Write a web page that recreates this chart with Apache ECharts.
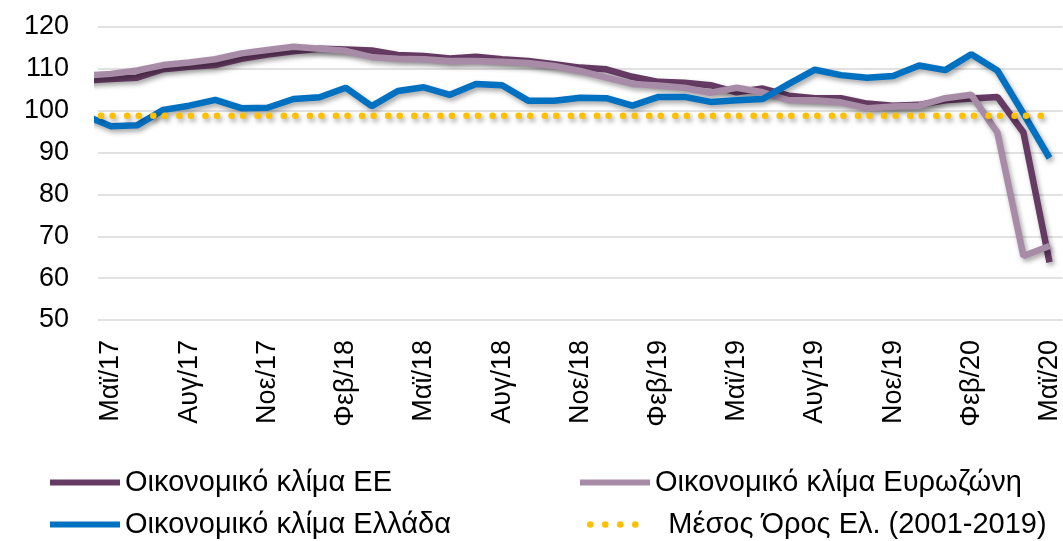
<!DOCTYPE html>
<html>
<head>
<meta charset="utf-8">
<script src="https://cdn.jsdelivr.net/npm/echarts@6/dist/echarts.min.js"></script>
<style>
  html, body { margin: 0; padding: 0; background: #fff; }
  #chart { width: 1063px; height: 541px; }
</style>
</head>
<body>
<div id="chart"></div>
<script>
// ετικέτες άξονα (Μαϊ/17 - Μαϊ/20)
const months = [
  'Μαϊ/17', 'Ιουν/17', 'Ιουλ/17', 'Αυγ/17', 'Σεπ/17', 'Οκτ/17', 'Νοε/17', 'Δεκ/17',
  'Ιαν/18', 'Φεβ/18', 'Μαρ/18', 'Απρ/18', 'Μαϊ/18', 'Ιουν/18', 'Ιουλ/18', 'Αυγ/18',
  'Σεπ/18', 'Οκτ/18', 'Νοε/18', 'Δεκ/18',
  'Ιαν/19', 'Φεβ/19', 'Μαρ/19', 'Απρ/19', 'Μαϊ/19', 'Ιουν/19', 'Ιουλ/19', 'Αυγ/19',
  'Σεπ/19', 'Οκτ/19', 'Νοε/19', 'Δεκ/19',
  'Ιαν/20', 'Φεβ/20', 'Μαρ/20', 'Απρ/20', 'Μαϊ/20'
];

// τιμές από Απρ/17 (η πρώτη κόβεται στην αριστερή άκρη) έως Μαϊ/20
const climateEU = [
  107.2, 107.6, 107.9, 109.9, 110.5, 110.9, 112.4, 113.4, 114.2, 114.8,
  114.6, 114.4, 113.3, 113.1, 112.5, 112.9, 112.3, 111.9, 111.1, 110.3,
  109.9, 108.1, 106.9, 106.7, 106.1, 104.4, 105.3, 103.6, 103.0, 103.0,
  101.7, 101.2, 101.4, 102.5, 102.9, 103.3, 94.8, 63.8
];
const climateEA = [
  108.4, 108.8, 109.6, 110.9, 111.5, 112.3, 113.7, 114.5, 115.3, 114.8,
  114.3, 112.8, 112.4, 112.3, 111.9, 111.9, 111.7, 111.4, 110.7, 109.5,
  107.9, 106.4, 106.0, 105.5, 104.3, 105.5, 104.4, 102.5, 102.5, 102.0,
  100.6, 101.0, 101.2, 103.0, 103.8, 94.8, 65.3, 67.7
];
const climateGR = [
  98.8, 96.3, 96.5, 100.2, 101.2, 102.6, 100.6, 100.7, 102.8, 103.2,
  105.5, 101.1, 104.7, 105.6, 103.8, 106.4, 106.1, 102.4, 102.4, 103.1,
  103.0, 101.2, 103.3, 103.3, 102.1, 102.5, 102.8, 106.4, 109.8, 108.5,
  107.9, 108.3, 110.8, 109.7, 113.5, 109.6, 99.3, 88.7
];
const meanGR = [
  98.8, 98.8, 98.8, 98.8, 98.8, 98.8, 98.8, 98.8, 98.8, 98.8,
  98.8, 98.8, 98.8, 98.8, 98.8, 98.8, 98.8, 98.8, 98.8, 98.8,
  98.8, 98.8, 98.8, 98.8, 98.8, 98.8, 98.8, 98.8, 98.8, 98.8,
  98.8, 98.8, 98.8, 98.8, 98.8, 98.8, 98.8, 98.8
];

const yTicks = { min: 50, max: 120, interval: 10 };

const names = [
  'Οικονομικό κλίμα ΕΕ',
  'Οικονομικό κλίμα Ευρωζώνη',
  'Οικονομικό κλίμα Ελλάδα',
  'Μέσος Όρος Ελ. (2001-2019)'
];

const font = 'Liberation Sans, Arial, sans-serif';
const shadow = {
  shadowColor: 'rgba(0,0,0,0.35)',
  shadowBlur: 5,
  shadowOffsetX: 2,
  shadowOffsetY: 3
};

// ο πρώτος μήνας (Απρ/17) έχει θέση -1
function toPoints(values) {
  return values.map((v, i) => [i - 1, v]);
}

function lineSeries(name, values, lineStyle) {
  return {
    name: name,
    type: 'line',
    xAxisIndex: 1,
    data: toPoints(values),
    symbol: 'none',
    showSymbol: false,
    smooth: false,
    clip: true,
    itemStyle: { color: lineStyle.color },
    lineStyle: Object.assign({}, shadow, lineStyle)
  };
}

const legendBase = {
  orient: 'horizontal',
  padding: 0,
  itemWidth: 70,
  itemHeight: 14,
  itemStyle: { opacity: 0 },
  lineStyle: { width: 6, shadowBlur: 0, shadowOffsetX: 0, shadowOffsetY: 0 },
  textStyle: { fontFamily: font, fontSize: 29, color: '#000' }
};

let chart = echarts.init(document.getElementById('chart'), null, { renderer: 'canvas' });

chart.setOption({
  animation: false,
  backgroundColor: '#fff',
  grid: { left: 98, right: 0, top: 27, bottom: 221, containLabel: false },
  legend: [
    Object.assign({}, legendBase, { data: [names[0]], left: 47, top: 468 }),
    Object.assign({}, legendBase, { data: [names[1]], left: 577, top: 468 }),
    Object.assign({}, legendBase, { data: [names[2]], left: 47, top: 510 }),
    Object.assign({}, legendBase, {
      data: [names[3]],
      left: 582,
      top: 510,
      itemWidth: 62,
      formatter: n => '  ' + n,
      lineStyle: { width: 6.5, type: [0.1, 14.9], cap: 'round', shadowBlur: 0, shadowOffsetX: 0, shadowOffsetY: 0 }
    })
  ],
  xAxis: [
    {
      type: 'category',
      data: months,
      boundaryGap: true,
      axisLine: { show: false },
      axisTick: { show: false },
      splitLine: { show: false },
      axisLabel: {
        interval: 2,
        rotate: 90,
        margin: 20,
        fontFamily: font,
        fontSize: 27,
        color: '#000'
      }
    },
    {
      type: 'value',
      min: -0.5,
      max: 36.5,
      show: false
    }
  ],
  yAxis: {
    type: 'value',
    min: yTicks.min,
    max: yTicks.max,
    interval: yTicks.interval,
    axisLine: { show: false },
    axisTick: { show: false },
    axisLabel: { margin: 29, fontFamily: font, fontSize: 27, color: '#000' },
    splitLine: { lineStyle: { color: '#d9d9d9', width: 1.5 } }
  },
  series: [
    lineSeries(names[0], climateEU, { color: '#653a63', width: 6.5 }),
    lineSeries(names[1], climateEA, { color: '#a88ba7', width: 6.5 }),
    lineSeries(names[2], climateGR, { color: '#0070c0', width: 6.5 }),
    lineSeries(names[3], meanGR, {
      color: '#ffc000',
      width: 6.5,
      type: [0.1, 11.4, 0.1, 14.5],
      dashOffset: 10,
      cap: 'round'
    })
  ]
});

window.addEventListener('resize', () => chart.resize());
</script>
</body>
</html>
